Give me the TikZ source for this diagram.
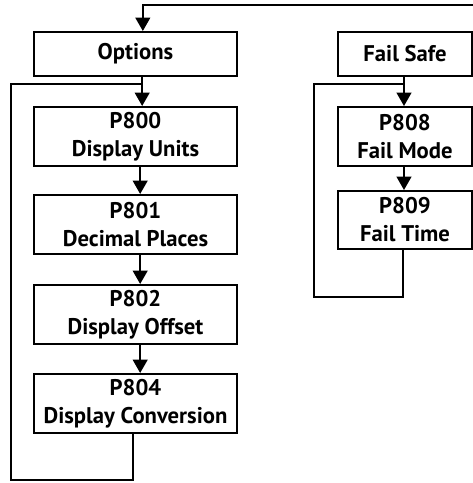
\documentclass[tikz,border=0pt]{standalone}
\usepackage{fontspec}
\setmainfont{PT Sans}
\usetikzlibrary{arrows.meta}

\begin{document}
\begin{tikzpicture}[x=0.75pt,y=-0.75pt,
  box/.style={draw,line width=1.5pt,minimum width=152pt,minimum height=44.25pt,
    inner sep=0pt,align=center,font=\fontsize{17}{21}\selectfont\bfseries},
  head/.style={box,minimum height=33pt},
  wire/.style={line width=1.5pt},
  arr/.style={wire,-{Triangle[length=10pt,width=11pt]}}]
\useasboundingbox (0,0) rectangle (473,483);

% left column
\node[head] (opt) at (135.5,54) {Options};
\node[box] (p800) at (135.5,136.5) {P800\\Display Units};
\node[box] (p801) at (135.5,224.5) {P801\\Decimal Places};
\node[box] (p802) at (135.5,314.5) {P802\\Display Offset};
\node[box] (p804) at (135.5,403.5) {P804\\Display Conversion};

% right column
\node[head,minimum width=100.5pt] (fs) at (405,54) {Fail Safe};
\node[box,minimum width=100.5pt] (p808) at (405,136.5) {P808\\Fail Mode};
\node[box,minimum width=100.5pt,minimum height=43.5pt] (p809) at (405,220) {P809\\Fail Time};

\coordinate (feed) at (474,5);
\coordinate (lj) at (142.5,84);
\coordinate (lbot) at (11,480);
\coordinate (rj) at (404,84);
\coordinate (rbot) at (314,297);

\draw[arr] (feed) -| ([xshift=5.5pt]opt.north);
\draw[arr] ([xshift=5pt]opt.south) -- ([xshift=5pt]p800.north);
\draw[arr] ([xshift=3.5pt]p800.south) -- ([xshift=3.5pt]p801.north);
\draw[arr] ([xshift=3.5pt]p801.south) -- ([xshift=3.5pt]p802.north);
\draw[arr] ([xshift=3.5pt]p802.south) -- ([xshift=3.5pt]p804.north);
\draw[wire] ([xshift=-2pt]p804.south) |- (lbot) |- (lj);

\draw[arr] ([xshift=-0.75pt]fs.south) -- ([xshift=-0.75pt]p808.north);
\draw[arr] ([xshift=-0.75pt]p808.south) -- ([xshift=-0.75pt]p809.north);
\draw[wire] ([xshift=-1.5pt]p809.south) |- (rbot) |- (rj);
\end{tikzpicture}
\end{document}
